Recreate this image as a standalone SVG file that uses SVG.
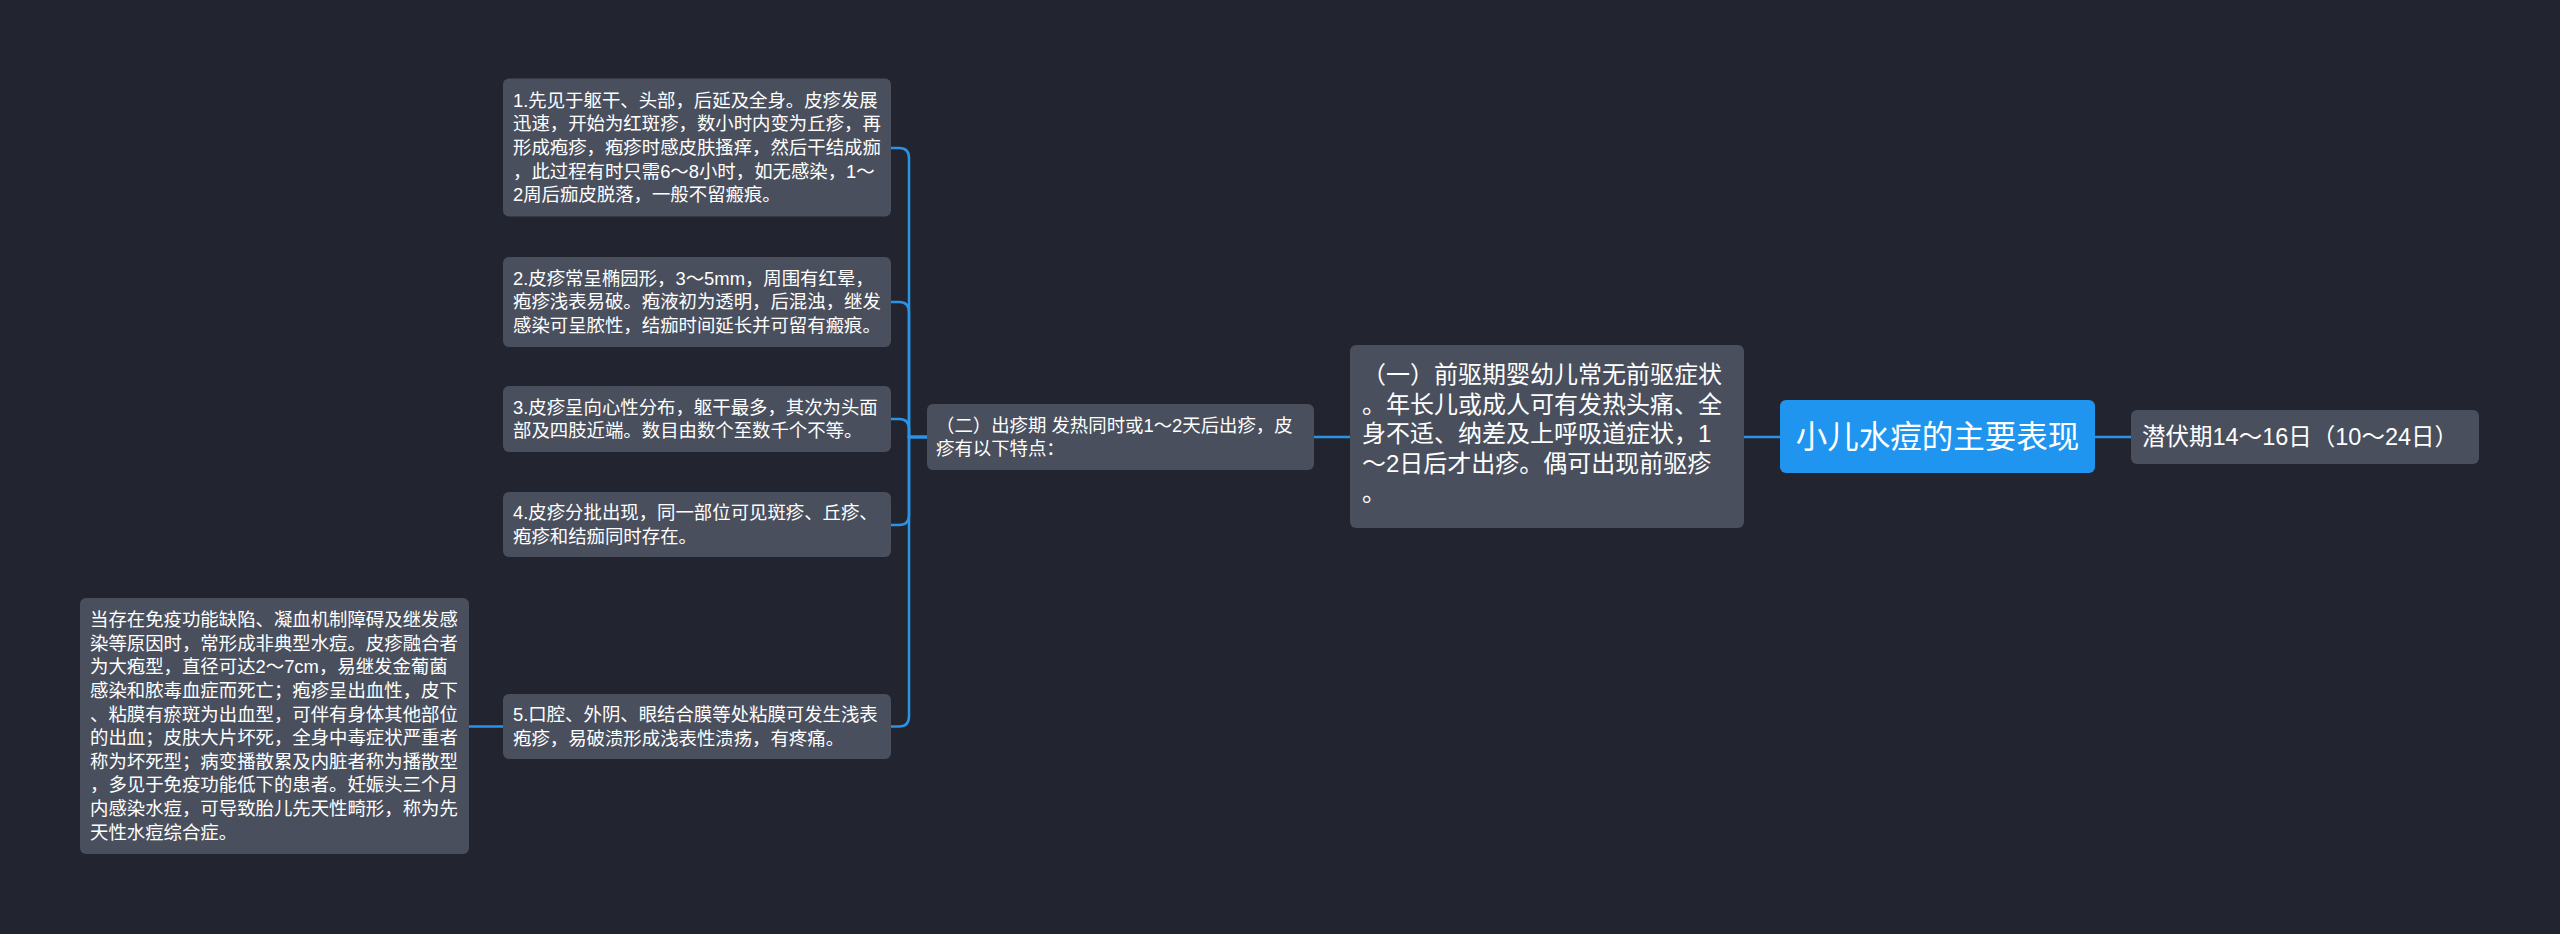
<svg xmlns="http://www.w3.org/2000/svg" width="2560" height="934" viewBox="0 0 2560 934">
<style>
.bg{fill:#22252f}
.box{fill:#4a4f5d}
.rootbox{fill:#1f95ef}
.t{font-family:"Liberation Sans","Noto Sans CJK SC",sans-serif;fill:#ffffff}
.s{font-size:18.4px}
.m{font-size:24px}
.p{font-size:23.5px}
.r{font-size:31.5px}
.c{fill:none;stroke:#2a93e6;stroke-width:2.5}
</style>
<rect class="bg" x="0" y="0" width="2560" height="934"/>
<g id="connectors">
<path class="c" d="M927,437 H909 V158 Q909,148 899,148 H891"/>
<path class="c" d="M927,437 H909 V312 Q909,302 899,302 H891"/>
<path class="c" d="M927,437 H909 V429 Q909,419 899,419 H891"/>
<path class="c" d="M927,437 H909 V515 Q909,525 899,525 H891"/>
<path class="c" d="M927,437 H909 V716.5 Q909,726.5 899,726.5 H891"/>
<path class="c" d="M503,726.5 H469"/>
<path class="c" d="M1350,437 H1314"/>
<path class="c" d="M1780,437 H1744"/>
<path class="c" d="M2095,437 H2131"/>
</g>
<g id="root">
<rect class="rootbox" x="1780" y="400" width="315" height="73" rx="6"/>
<text class="t r" x="1937.5" y="447.5" text-anchor="middle">小儿水痘的主要表现</text>
</g>
<g id="latent">
<rect class="box" x="2131" y="410" width="348" height="54" rx="6"/>
<text class="t p" x="2142" y="445.2">潜伏期14～16日（10～24日）</text>
</g>
<g id="prodromal">
<rect class="box" x="1350" y="345" width="394" height="183" rx="6"/>
<text class="t m"><tspan x="1362" y="383.4">（一）前驱期婴幼儿常无前驱症状</tspan><tspan x="1362" y="412.9">。年长儿或成人可有发热头痛、全</tspan><tspan x="1362" y="442.4">身不适、纳差及上呼吸道症状，1</tspan><tspan x="1362" y="471.9">～2日后才出疹。偶可出现前驱疹</tspan><tspan x="1362" y="501.4">。</tspan></text>
</g>
<g id="eruption">
<rect class="box" x="927" y="404" width="387" height="66" rx="6"/>
<text class="t s"><tspan x="936" y="431.6">（二）出疹期 发热同时或1～2天后出疹，皮</tspan><tspan x="936" y="455.2">疹有以下特点：</tspan></text>
</g>
<g id="item1">
<rect class="box" x="503" y="78.5" width="388" height="138" rx="6"/>
<text class="t s"><tspan x="513" y="106.7">1.先见于躯干、头部，后延及全身。皮疹发展</tspan><tspan x="513" y="130.3">迅速，开始为红斑疹，数小时内变为丘疹，再</tspan><tspan x="513" y="153.9">形成疱疹，疱疹时感皮肤搔痒，然后干结成痂</tspan><tspan x="513" y="177.5">，此过程有时只需6～8小时，如无感染，1～</tspan><tspan x="513" y="201.1">2周后痂皮脱落，一般不留瘢痕。</tspan></text>
</g>
<g id="item2">
<rect class="box" x="503" y="257" width="388" height="90" rx="6"/>
<text class="t s"><tspan x="513" y="284.8">2.皮疹常呈椭园形，3～5mm，周围有红晕，</tspan><tspan x="513" y="308.4">疱疹浅表易破。疱液初为透明，后混浊，继发</tspan><tspan x="513" y="332">感染可呈脓性，结痂时间延长并可留有瘢痕。</tspan></text>
</g>
<g id="item3">
<rect class="box" x="503" y="386" width="388" height="66" rx="6"/>
<text class="t s"><tspan x="513" y="413.6">3.皮疹呈向心性分布，躯干最多，其次为头面</tspan><tspan x="513" y="437.2">部及四肢近端。数目由数个至数千个不等。</tspan></text>
</g>
<g id="item4">
<rect class="box" x="503" y="492" width="388" height="65" rx="6"/>
<text class="t s"><tspan x="513" y="519.1">4.皮疹分批出现，同一部位可见斑疹、丘疹、</tspan><tspan x="513" y="542.7">疱疹和结痂同时存在。</tspan></text>
</g>
<g id="item5">
<rect class="box" x="503" y="694" width="388" height="65" rx="6"/>
<text class="t s"><tspan x="513" y="721.1">5.口腔、外阴、眼结合膜等处粘膜可发生浅表</tspan><tspan x="513" y="744.7">疱疹，易破溃形成浅表性溃疡，有疼痛。</tspan></text>
</g>
<g id="atypical">
<rect class="box" x="80" y="598" width="389" height="256" rx="6"/>
<text class="t s"><tspan x="90" y="626.2">当存在免疫功能缺陷、凝血机制障碍及继发感</tspan><tspan x="90" y="649.8">染等原因时，常形成非典型水痘。皮疹融合者</tspan><tspan x="90" y="673.4">为大疱型，直径可达2～7cm，易继发金葡菌</tspan><tspan x="90" y="697">感染和脓毒血症而死亡；疱疹呈出血性，皮下</tspan><tspan x="90" y="720.6">、粘膜有瘀斑为出血型，可伴有身体其他部位</tspan><tspan x="90" y="744.2">的出血；皮肤大片坏死，全身中毒症状严重者</tspan><tspan x="90" y="767.8">称为坏死型；病变播散累及内脏者称为播散型</tspan><tspan x="90" y="791.4">，多见于免疫功能低下的患者。妊娠头三个月</tspan><tspan x="90" y="815">内感染水痘，可导致胎儿先天性畸形，称为先</tspan><tspan x="90" y="838.6">天性水痘综合症。</tspan></text>
</g>
</svg>
